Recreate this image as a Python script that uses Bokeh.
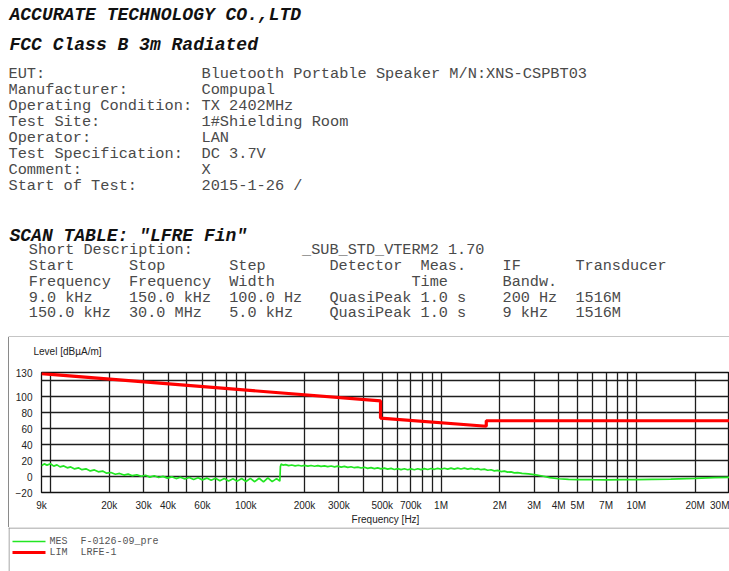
from bokeh.plotting import figure
from bokeh.models import Range1d, FixedTicker, ColumnDataSource, Spacer
from bokeh.layouts import column, row
from bokeh.core.properties import value
from bokeh.embed import file_html
from bokeh.resources import INLINE

# ---------------- data ----------------
lim_freq_khz = [9, 490, 490, 1705, 1705, 30000]
lim_level = [128.5, 94.5, 73.0, 62.8, 69.7, 69.7]

mes_freq_khz = [
    9.0, 9.3, 9.6, 10.0, 10.4, 10.8, 11.2, 11.7, 12.2, 12.7, 13.3, 13.9, 14.5, 15.2,
    16.0, 16.8, 17.6, 18.5, 19.4, 20.4, 21.5, 22.6, 23.8, 25.0, 26.3, 27.7, 29.2,
    30.7, 32.3, 34.0, 35.8, 37.7, 39.7, 41.8, 44.0, 46.3, 48.8, 51.4, 54.1, 57.0,
    60.0, 63.2, 66.5, 70.0, 73.7, 77.6, 81.7, 86.0, 90.5, 95.3, 100.3, 105.6, 111.2,
    117.1, 123.3, 129.8, 136.6, 143.8, 149.5,
    150.5, 152, 155, 160, 166, 172, 179, 186, 193, 200, 208, 216, 225, 234, 243, 253,
    263, 274, 285, 296, 308, 320, 333, 346, 360, 375, 390, 405, 421, 438, 456, 474,
    493, 513, 533, 555, 577, 600, 624, 649, 675, 702, 730, 760, 790, 822, 855, 889,
    925, 962, 1000, 1040, 1082, 1125, 1170, 1217, 1266, 1317, 1370, 1425, 1482, 1541,
    1603, 1667, 1734, 1803, 1875, 1950, 2028, 2110, 2194, 2282, 2373, 2468,
    2600, 2800, 3000, 3300, 3600, 4000, 4500, 5000, 6000, 7000, 8500, 10000, 12000,
    15000, 20000, 25000, 30000]
mes_level = [
    13.5, 15.8, 14.2, 16.0, 13.0, 14.5, 12.0, 13.2, 10.8, 12.0, 9.5, 10.8, 8.5, 9.6,
    7.0, 8.2, 5.8, 6.8, 4.2, 5.0, 2.8, 3.8, 1.8, 3.0, 1.0, 2.2, 0.3,
    1.6, -0.8, 0.9, -1.2, 0.2, -2.0, -0.4, -2.6, -0.9, -3.2, -1.2, -3.8, -1.6,
    -4.2, -2.0, -4.8, -2.2, -5.2, -2.5, -5.5, -2.8, -5.8, -2.6, -6.2, -2.4, -6.5,
    -2.2, -6.8, -1.8, -6.4, -2.6, -5.8,
    12.5, 15.6, 14.2, 14.9, 13.6, 14.4, 13.3, 14.1, 13.1, 13.9, 12.9, 13.7, 12.8, 13.5, 12.6, 13.3,
    12.3, 13.1, 12.1, 12.9, 11.8, 12.6, 11.4, 12.2, 11.0, 11.8, 10.6, 11.5, 10.2, 11.1, 9.8, 10.8,
    9.6, 10.5, 9.2, 10.2, 8.8, 9.9, 8.6, 9.7, 8.4, 9.6, 8.5, 9.7, 8.6, 9.9, 8.8, 10.0,
    9.0, 10.2, 9.1, 10.3, 9.2, 10.4, 9.3, 10.5, 9.4, 10.4, 9.3, 10.2, 9.0, 9.8,
    8.5, 9.2, 7.8, 8.4, 7.0, 7.6, 6.2, 6.7, 5.4, 5.8, 4.6, 4.8,
    4.0, 3.2, 2.4, 0.6, -1.4, -2.8, -3.5, -3.8, -4.0, -4.1, -4.0, -3.9, -3.6,
    -3.2, -2.4, -1.5, -1.0]

x_label_ticks_khz = [9, 20, 30, 40, 60, 100, 200, 300, 500, 700, 1000, 2000, 3000,
                     4000, 5000, 7000, 10000, 20000, 30000]
x_label_texts = ["9k", "20k", "30k", "40k", "60k", "100k", "200k", "300k", "500k", "700k",
                 "1M", "2M", "3M", "4M", "5M", "7M", "10M", "20M", "30M"]
x_grid_khz = [10, 20, 30, 40, 50, 60, 70, 80, 90, 100, 200, 300, 400, 500, 600, 700, 800,
              900, 1000, 2000, 3000, 4000, 5000, 6000, 7000, 8000, 9000, 10000, 20000]
y_label_ticks = [-20, 0, 20, 40, 60, 80, 100, 130]
y_grid_ticks = [0, 20, 40, 60, 80, 100, 120]
y_title = "Level [dB\u00b5A/m]"
x_title = "Frequency [Hz]"

title_lines = ["ACCURATE TECHNOLOGY CO.,LTD", "FCC Class B 3m Radiated", "SCAN TABLE: \"LFRE Fin\""]
info_keys = ["EUT:", "Manufacturer:", "Operating Condition:", "Test Site:", "Operator:",
             "Test Specification:", "Comment:", "Start of Test:"]
info_vals = ["Bluetooth Portable Speaker M/N:XNS-CSPBT03", "Compupal", "TX 2402MHz",
             "1#Shielding Room", "LAN", "DC 3.7V", "X", "2015-1-26 /"]
scan_rows = [
    [(0, "Short Description:"), (30, "_SUB_STD_VTERM2 1.70")],
    [(0, "Start"), (11, "Stop"), (22, "Step"), (33, "Detector"), (43, "Meas."), (52, "IF"), (60, "Transducer")],
    [(0, "Frequency"), (11, "Frequency"), (22, "Width"), (42, "Time"), (52, "Bandw.")],
    [(0, "9.0 kHz"), (11, "150.0 kHz"), (22, "100.0 Hz"), (33, "QuasiPeak"), (43, "1.0 s"), (52, "200 Hz"), (60, "1516M")],
    [(0, "150.0 kHz"), (11, "30.0 MHz"), (22, "5.0 kHz"), (33, "QuasiPeak"), (43, "1.0 s"), (52, "9 kHz"), (60, "1516M")],
]
legend_tags = ["MES", "LIM"]
legend_names = ["F-0126-09_pre", "LRFE-1"]

MONO = value("Liberation Mono")
SANS = value("Liberation Sans")
BORDER = "#8a8a8a"
TXT = "#4a4a4a"
MES_STYLE = dict(line_color="#22e622", line_width=1.7)
LIM_STYLE = dict(line_color="#ff0000", line_width=3.2)


def pixel_figure(w, h):
    f = figure(width=w, height=h, x_range=Range1d(0, w), y_range=Range1d(h, 0),
               output_backend="svg", toolbar_location=None, title=None,
               x_axis_location=None, y_axis_location=None,
               min_border=0, min_border_left=0, min_border_right=0,
               min_border_top=0, min_border_bottom=0)
    f.grid.visible = False
    f.outline_line_color = None
    return f


# ---------------- header ----------------
WA, HA = 729, 337
hdr = pixel_figure(WA, HA)
hdr.text(x=[9, 9, 9], y=[14, 44, 235], text=title_lines, text_font=MONO,
         text_font_size=value("18px"), text_font_style=value("bold italic"),
         text_color="#111111", text_baseline="middle")
iy = [73 + 16 * i for i in range(len(info_keys))]
hdr.text(x=[8] * len(info_keys), y=iy, text=info_keys, text_font=MONO,
         text_font_size=value("15.3px"), text_color=TXT, text_baseline="middle")
hdr.text(x=[201] * len(info_vals), y=iy, text=info_vals, text_font=MONO,
         text_font_size=value("15.3px"), text_color=TXT, text_baseline="middle")
row_y = [249, 265, 281, 297, 312]
tx, ty, tt = [], [], []
for yy, r in zip(row_y, scan_rows):
    for col, t in r:
        tx.append(28.3 + col * 9.11)
        ty.append(yy)
        tt.append(t)
hdr.text(x=tx, y=ty, text=tt, text_font=MONO, text_font_size=value("15.2px"),
         text_color=TXT, text_baseline="middle")
hdr.line(x=[8, WA], y=[336.5, 336.5], line_color=BORDER, line_width=1)

# ---------------- y-title strip (page x 9.., y 337..366) ----------------
WS, HS = 720, 29
strip = pixel_figure(WS, HS)
strip.text(x=[24], y=[14], text=[y_title], text_font=SANS, text_font_size=value("10px"),
           text_color="#222222", text_baseline="middle")

# ---------------- chart ----------------
WB, HB = 720, 161
p = figure(width=WB, height=HB, x_axis_type="log", title=None,
           x_range=Range1d(9e3, 30e6), y_range=Range1d(-20, 130),
           output_backend="svg", toolbar_location=None,
           min_border_left=32, min_border_right=0, min_border_top=6, min_border_bottom=34)
p.background_fill_color = "white"
p.border_fill_color = "white"
p.outline_line_color = "#111111"
p.outline_line_width = 1.3

p.xgrid.ticker = FixedTicker(ticks=[f * 1e3 for f in x_grid_khz])
p.ygrid.ticker = FixedTicker(ticks=y_grid_ticks)
for g in (p.xgrid, p.ygrid):
    g.grid_line_color = "#1e1e1e"
    g.grid_line_width = 1.3

p.xaxis.ticker = FixedTicker(ticks=[f * 1e3 for f in x_label_ticks_khz])
p.xaxis.major_label_overrides = {f * 1e3: t for f, t in zip(x_label_ticks_khz, x_label_texts)}
p.yaxis.ticker = FixedTicker(ticks=y_label_ticks)
for ax in (p.xaxis, p.yaxis):
    ax.axis_line_color = None
    ax.major_tick_line_color = None
    ax.minor_tick_line_color = None
    ax.major_label_text_font = "Liberation Sans"
    ax.major_label_text_font_size = "10px"
    ax.major_label_text_color = "#222222"
p.yaxis.major_label_standoff = 3
p.xaxis.major_label_standoff = 1
p.xaxis.axis_label = x_title
p.xaxis.axis_label_text_font = "Liberation Sans"
p.xaxis.axis_label_text_font_size = "10px"
p.xaxis.axis_label_text_font_style = "normal"
p.xaxis.axis_label_text_color = "#222222"
p.xaxis.axis_label_standoff = 0

mes_src = ColumnDataSource(dict(f=[v * 1e3 for v in mes_freq_khz], lv=mes_level))
lim_src = ColumnDataSource(dict(f=[v * 1e3 for v in lim_freq_khz], lv=lim_level))
p.line("f", "lv", source=mes_src, **MES_STYLE)
p.line("f", "lv", source=lim_src, **LIM_STYLE)

# ---------------- legend strip ----------------
WC, HC = 721, 44
leg = pixel_figure(WC, HC)
leg.line(x=[0, WC], y=[0.5, 0.5], line_color=BORDER, line_width=1)
leg.line(x=[0.5, 0.5], y=[0, HC], line_color=BORDER, line_width=1)
leg_y = [14, 25]
leg.line(x=[4, 37], y=[leg_y[0], leg_y[0]], line_color=MES_STYLE["line_color"], line_width=1.5)
leg.line(x=[4, 37], y=[leg_y[1], leg_y[1]], **LIM_STYLE)
leg.text(x=[41, 41], y=leg_y, text=legend_tags, text_font=MONO, text_font_size=value("10px"),
         text_color="#555555", text_baseline="middle")
leg.text(x=[72, 72], y=leg_y, text=legend_names, text_font=MONO, text_font_size=value("10px"),
         text_color="#555555", text_baseline="middle")


def border_row(h, child):
    return row(Spacer(width=8, height=h),
               Spacer(width=1, height=h, styles={"background-color": BORDER}),
               child)


layout = column(
    hdr,
    border_row(HS, strip),
    border_row(HB, p),
    row(Spacer(width=8, height=HC), leg),
)

open("out.html", "w").write(file_html(layout, INLINE))
